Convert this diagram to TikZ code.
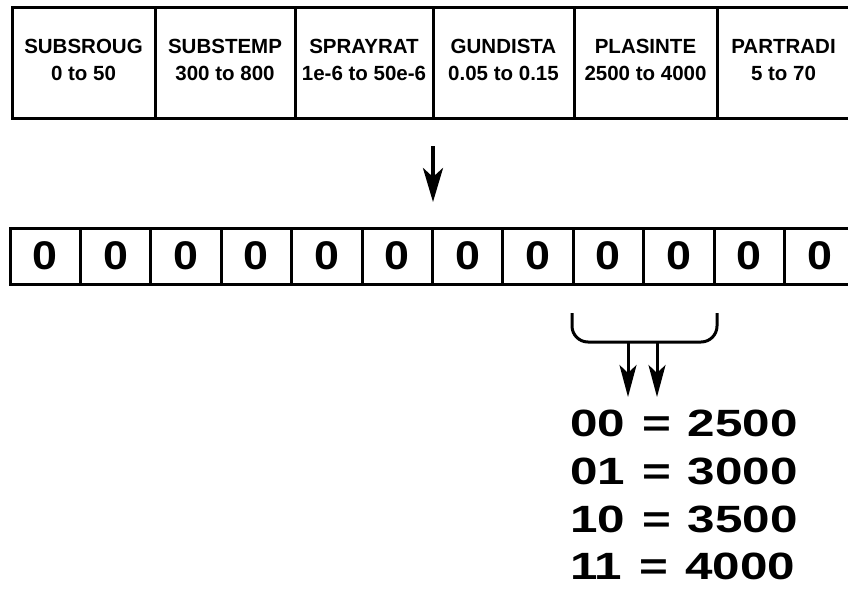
\documentclass[tikz,border=0pt]{standalone}
\usepackage{fontspec}
\setmainfont{Liberation Sans}
\newfontfamily\labfont{Liberation Sans Bold}
\newfontfamily\bitfont[FakeStretch=1.12]{Liberation Sans Bold}
\newfontfamily\widefont[FakeStretch=1.3]{Liberation Sans Bold}
\newcommand{\eqsp}{\hspace{17pt}=\hspace{17pt}}
\usetikzlibrary{arrows.meta}
\begin{document}
\begin{tikzpicture}[x=1pt,y=-1pt,
  thick line/.style={line width=3pt},
  parcell/.style={draw,line width=3pt,minimum height=111pt,inner sep=0pt},
  partext/.style={inner sep=0pt,align=center,font=\labfont\fontsize{20.5}{27}\selectfont},
  bitcell/.style={draw,line width=3pt,minimum height=56pt,minimum width=70.4pt,inner sep=0pt,
    font=\bitfont\fontsize{40}{42}\selectfont},
  codeline/.style={anchor=west,inner sep=0pt,font=\widefont\fontsize{38}{40}\selectfont},
  bigarrow/.style={line width=4pt,-{Stealth[length=34pt,width=20pt,inset=9pt]}},
  smallarrow/.style={line width=3pt,-{Stealth[length=32pt,width=17pt,inset=8pt]}}]
\useasboundingbox (0,0) rectangle (848,595);
% parameter row
\node[parcell,minimum width=143pt] (p1) at (83.5,62.5) {};
\node[parcell,minimum width=140pt] (p2) at (225,62.5) {};
\node[parcell,minimum width=138pt] (p3) at (364,62.5) {};
\node[parcell,minimum width=141pt] (p4) at (503.5,62.5) {};
\node[parcell,minimum width=143pt] (p5) at (645.5,62.5) {};
\node[parcell,minimum width=143pt] (p6) at (788.5,62.5) {};
\node[partext] (l1) at ([yshift=2.5pt]p1.center) {SUBSROUG\\0 to 50};
\node[partext] (l2) at ([yshift=2.5pt]p2.center) {SUBSTEMP\\300 to 800};
\node[partext] (l3) at ([yshift=2.5pt]p3.center) {SPRAYRAT\\1e-6 to 50e-6};
\node[partext] (l4) at ([yshift=2.5pt]p4.center) {GUNDISTA\\0.05 to 0.15};
\node[partext] (l5) at ([yshift=2.5pt]p5.center) {PLASINTE\\2500 to 4000};
\node[partext] (l6) at ([xshift=-5pt,yshift=2.5pt]p6.center) {PARTRADI\\5 to 70};
% bit row
\foreach \i in {1,...,12} {
  \node[bitcell] (b\i) at ({10+70.4*(\i-0.5)},256) {0};
}
% main arrow
\coordinate (a1) at (433,146);
\coordinate (a2) at (433,202);
\draw[bigarrow] (a1) -- (a2);
% bracket
\coordinate (bl) at (572,313);
\coordinate (br) at (717,313);
\draw[thick line,rounded corners=16pt] (bl) |- (644.5,342) -| (br);
\coordinate (s1) at (628,342);
\coordinate (s2) at (657,342);
\coordinate (t1) at (628,397);
\coordinate (t2) at (657,397);
\draw[smallarrow] (s1) -- (t1);
\draw[smallarrow] (s2) -- (t2);
% codes
\node[codeline] (c1) at (570,423) {00\eqsp2500};
\node[codeline] (c2) at (570,471) {01\eqsp3000};
\node[codeline] (c3) at (570,519) {10\eqsp3500};
\node[codeline] (c4) at (570,566) {11\eqsp4000};
\end{tikzpicture}
\end{document}
